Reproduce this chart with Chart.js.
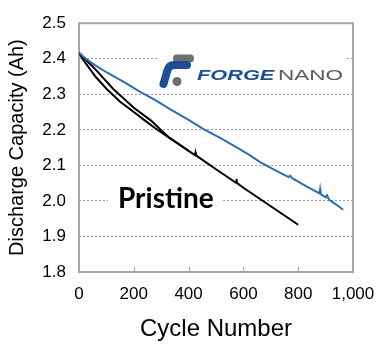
<!DOCTYPE html>
<html lang="en">
<head>
  <meta charset="UTF-8">
  <title>Discharge Capacity vs Cycle Number</title>
  <script src="https://cdn.jsdelivr.net/npm/chart.js"></script>
  <style>
    html, body { margin: 0; padding: 0; background: #fff; }
    .chart-container { position: relative; width: 387px; height: 353px; }
  </style>
</head>

<body>
  <div class="chart-container">
    <canvas id="capChart" width="387" height="353"></canvas>
  </div>

  <script>
    // Forge Nano coated cell (blue)
    const forgeCycles   = [0, 25, 58, 100, 168, 220, 277, 332, 400, 453, 520, 577, 620, 661, 700, 740, 765, 770, 778, 830, 878, 880, 882, 900, 905, 912, 940, 964];
    const forgeCapacity = [2.417, 2.400, 2.382, 2.362, 2.333, 2.308, 2.284, 2.258, 2.228, 2.203, 2.175, 2.150, 2.130, 2.109, 2.093, 2.077, 2.067, 2.071, 2.064, 2.041, 2.021, 2.032, 2.019, 2.010, 2.016, 2.004, 1.989, 1.975];

    // Pristine cells (black), two runs that overlap after ~300 cycles
    const pristineCyclesA   = [0, 15, 34, 60, 101, 150, 200, 241, 277, 330, 400, 423, 425, 427, 500, 573, 575, 577, 600, 650, 700, 750, 800];
    const pristineCapacityA = [2.417, 2.397, 2.377, 2.350, 2.315, 2.279, 2.250, 2.226, 2.205, 2.177, 2.141, 2.129, 2.136, 2.128, 2.089, 2.051, 2.062, 2.050, 2.037, 2.011, 1.985, 1.959, 1.933];
    const pristineCyclesB   = [0, 30, 60, 125, 200, 263, 300, 330, 400];
    const pristineCapacityB = [2.417, 2.393, 2.370, 2.315, 2.262, 2.226, 2.199, 2.178, 2.141];

    const xTicks = [0, 200, 400, 600, 800, 1000];
    const yMin = 1.8, yMax = 2.5, yStep = 0.1;

    function toPoints(xs, ys) {
      return xs.map((x, i) => ({ x: x, y: ys[i] }));
    }

    const BOX_COLOR = '#a6a6a6';
    const FONT = '"Liberation Sans", Arial, sans-serif';

    // frame, inner x ticks, logo and label
    const decorPlugin = {
      id: 'decor',
      beforeDatasetsDraw(chart) {
        const ctx = chart.ctx;
        const xs = chart.scales.x;
        const ca = chart.chartArea;

        // Forge Nano logo (white box hides the grid line behind it)
        ctx.save();
        ctx.fillStyle = '#fff';
        ctx.fillRect(157, 51, 190, 37);
        ctx.lineCap = 'round';
        ctx.lineJoin = 'round';
        ctx.strokeStyle = '#6d6e71';
        ctx.lineWidth = 8;
        ctx.beginPath();
        ctx.moveTo(177, 58.5);
        ctx.lineTo(190, 58.5);
        ctx.stroke();
        ctx.strokeStyle = '#1f4e99';
        ctx.beginPath();
        ctx.moveTo(163.5, 84);
        ctx.lineTo(167.5, 70);
        ctx.quadraticCurveTo(169, 65, 174, 65);
        ctx.lineTo(187, 65);
        ctx.stroke();
        ctx.fillStyle = '#6d6e71';
        ctx.beginPath();
        ctx.arc(177, 81.5, 4.5, 0, Math.PI * 2);
        ctx.fill();

        ctx.textBaseline = 'alphabetic';
        ctx.save();
        ctx.translate(197, 80);
        ctx.scale(1.45, 1);
        ctx.fillStyle = '#1f4e99';
        ctx.font = 'italic bold 15px ' + FONT;
        ctx.fillText('FORGE', 0, 0);
        ctx.restore();
        ctx.save();
        ctx.translate(278, 80);
        ctx.scale(1.5, 1);
        ctx.fillStyle = '#5a5a5a';
        ctx.font = '15px ' + FONT;
        ctx.fillText('NANO', 0, 0);
        ctx.restore();

        // "Pristine" label
        ctx.font = 'bold 28px Lato, "Open Sans", sans-serif';
        const w = ctx.measureText('Pristine').width;
        ctx.fillStyle = '#fff';
        ctx.fillRect(108, 186, w + 18, 24);
        ctx.fillStyle = '#000';
        ctx.fillText('Pristine', 118, 207.5);
        ctx.restore();

        // plot frame
        ctx.save();
        ctx.strokeStyle = BOX_COLOR;
        ctx.lineWidth = 2;
        ctx.strokeRect(ca.left, ca.top, ca.right - ca.left, ca.bottom - ca.top);
        // small tick marks pointing into the plot
        ctx.lineWidth = 1;
        ctx.beginPath();
        xTicks.slice(1, -1).forEach(v => {
          const px = Math.round(xs.getPixelForValue(v)) + 0.5;
          ctx.moveTo(px, ca.bottom);
          ctx.lineTo(px, ca.bottom - 5);
        });
        ctx.stroke();
        ctx.restore();
      }
    };

    const ctx = document.getElementById('capChart').getContext('2d');
    const chart = new Chart(ctx, {
      type: 'line',
      data: {
        datasets: [
          {
            label: 'Forge Nano',
            data: toPoints(forgeCycles, forgeCapacity),
            borderColor: '#2e6db4',
            borderWidth: 2,
            pointRadius: 0,
            tension: 0
          },
          {
            label: 'Pristine',
            data: toPoints(pristineCyclesA, pristineCapacityA),
            borderColor: '#000',
            borderWidth: 2,
            pointRadius: 0,
            tension: 0
          },
          {
            label: 'Pristine 2',
            data: toPoints(pristineCyclesB, pristineCapacityB),
            borderColor: '#000',
            borderWidth: 2,
            pointRadius: 0,
            tension: 0
          }
        ]
      },
      options: {
        responsive: false,
        animation: false,
        devicePixelRatio: 1,
        layout: { padding: { top: 11, right: 34, left: 0, bottom: 0 } },
        plugins: {
          legend: { display: false },
          tooltip: { enabled: false }
        },
        scales: {
          x: {
            type: 'linear',
            min: 0,
            max: 1000,
            afterFit(s) { s.height = 81; },
            afterBuildTicks(s) { s.ticks = xTicks.map(v => ({ value: v })); },
            grid: { display: false, drawTicks: false },
            border: { display: false },
            ticks: {
              padding: 12,
              color: '#000',
              font: { family: FONT, size: 17 },
              callback: v => v.toLocaleString('en-US')
            },
            title: {
              display: true,
              text: 'Cycle Number',
              color: '#000',
              font: { family: FONT, size: 24 },
              padding: { top: 0, bottom: 9 }
            }
          },
          y: {
            min: yMin,
            max: yMax,
            afterFit(s) { s.width = 79; },
            grid: { color: '#999', lineWidth: 1, drawTicks: false },
            border: { display: false, dash: [2, 2] },
            ticks: {
              stepSize: yStep,
              padding: 13,
              color: '#000',
              font: { family: FONT, size: 17 },
              callback: v => v.toFixed(1)
            },
            title: {
              display: true,
              text: 'Discharge Capacity (Ah)',
              color: '#000',
              font: { family: FONT, size: 20 },
              padding: { top: 5, bottom: 0 }
            }
          }
        }
      },
      plugins: [decorPlugin]
    });
  </script>
</body>
</html>
